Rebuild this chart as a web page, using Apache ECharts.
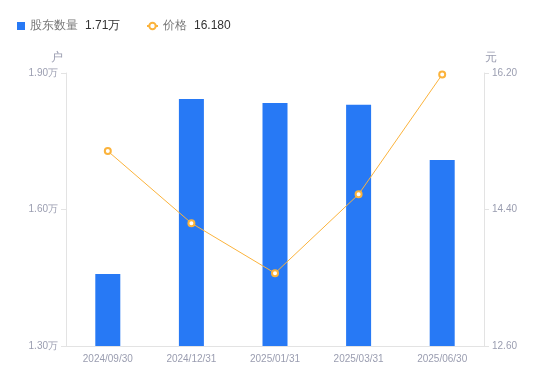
<!DOCTYPE html>
<html>
<head>
<meta charset="utf-8">
<script src="https://cdn.jsdelivr.net/npm/echarts@6/dist/echarts.min.js"></script>
<style>
  html, body { margin: 0; padding: 0; background: #fff; }
  #chart { width: 550px; height: 381px; }
</style>
</head>
<body>
<div id="chart"></div>
<script>
// 数据
const categories = ['2024/09/30', '2024/12/31', '2025/01/31', '2025/03/31', '2025/06/30'];
const holders = [1.458, 1.843, 1.834, 1.830, 1.709]; // 股东数量（万户）
const prices = [15.17, 14.22, 13.56, 14.60, 16.18]; // 价格（元）
const leftTicks = [1.30, 1.60, 1.90];
const rightTicks = [12.60, 14.40, 16.20];
const legendValues = { '股东数量': '1.71万', '价格': '16.180' };

const labelColor = '#9a9db0';
const axisLineColor = '#e3e3e3';

const chart = echarts.init(document.getElementById('chart'));

function legendFormatter(name) {
  return '{n|' + name + '}{v|' + legendValues[name] + '}';
}
const legendText = {
  rich: {
    n: { color: '#777', fontSize: 12, padding: [0, 7, 0, 0] },
    v: { color: '#333', fontSize: 12 }
  }
};

const option = {
  animation: false,
  legend: [
    {
      left: 12,
      top: 15,
      itemWidth: 8,
      itemHeight: 8,
      data: [{ name: '股东数量', icon: 'rect' }],
      formatter: legendFormatter,
      textStyle: legendText
    },
    {
      left: 141,
      top: 15,
      itemWidth: 11,
      itemHeight: 8,
      data: ['价格'],
      formatter: legendFormatter,
      textStyle: legendText
    }
  ],
  grid: {
    left: 66,
    right: 66,
    top: 73,
    bottom: 35,
    containLabel: false
  },
  xAxis: {
    type: 'category',
    data: categories,
    axisLine: { lineStyle: { color: axisLineColor } },
    axisTick: { show: false },
    axisLabel: { color: labelColor, fontSize: 10, margin: 8 }
  },
  yAxis: [
    {
      type: 'value',
      name: '户',
      nameGap: 9,
      nameTextStyle: { color: labelColor, fontSize: 12, align: 'right', padding: [0, 3, 0, 0] },
      min: leftTicks[0],
      max: leftTicks[leftTicks.length - 1],
      interval: 0.3,
      splitLine: { show: false },
      axisLine: { show: true, lineStyle: { color: axisLineColor } },
      axisTick: { show: true, length: 5, lineStyle: { color: axisLineColor } },
      axisLabel: {
        color: labelColor,
        fontSize: 10,
        margin: 8,
        formatter: function (v) { return v.toFixed(2) + '万'; }
      }
    },
    {
      type: 'value',
      name: '元',
      nameGap: 9,
      nameTextStyle: { color: labelColor, fontSize: 12, align: 'left', padding: [0, 0, 0, 1] },
      min: rightTicks[0],
      max: rightTicks[rightTicks.length - 1],
      interval: 1.8,
      splitLine: { show: false },
      axisLine: { show: true, lineStyle: { color: axisLineColor } },
      axisTick: { show: true, length: 5, lineStyle: { color: axisLineColor } },
      axisLabel: {
        color: labelColor,
        fontSize: 10,
        margin: 8,
        formatter: function (v) { return v.toFixed(2); }
      }
    }
  ],
  series: [
    {
      name: '股东数量',
      type: 'bar',
      yAxisIndex: 0,
      data: holders,
      barWidth: 25,
      itemStyle: { color: '#2779f5' }
    },
    {
      name: '价格',
      type: 'line',
      yAxisIndex: 1,
      data: prices,
      symbol: 'circle',
      symbolSize: 6,
      lineStyle: { color: '#fbb33c', width: 1 },
      itemStyle: { color: '#fff', borderColor: '#fbb33c', borderWidth: 2 },
      z: 5
    }
  ]
};

chart.setOption(option);
</script>
</body>
</html>
